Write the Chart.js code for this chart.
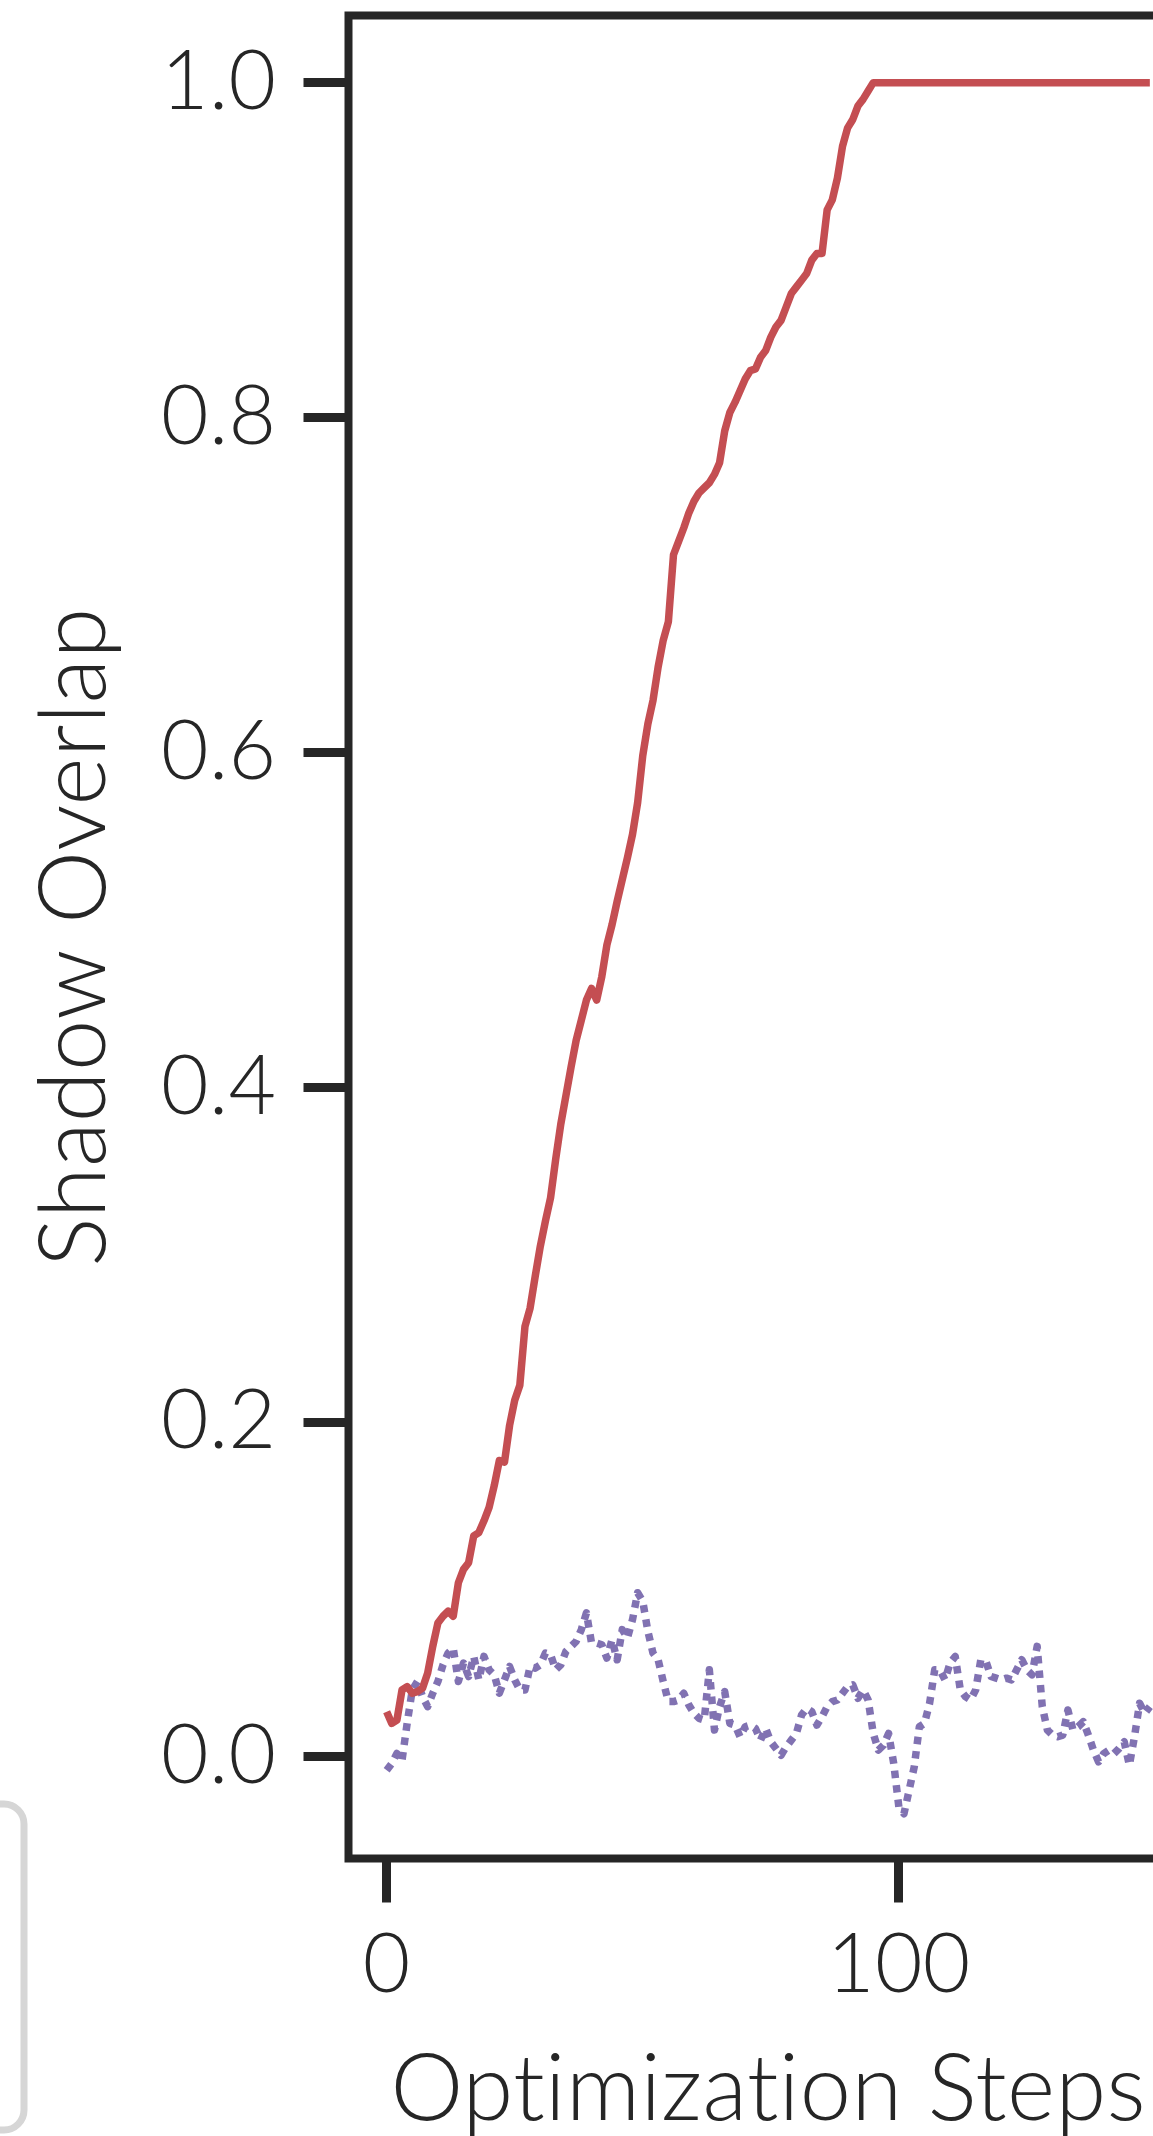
<!DOCTYPE html>
<html>
<head>
<meta charset="utf-8">
<title>Shadow Overlap</title>
<script src="https://cdn.jsdelivr.net/npm/chart.js@4.4.0/dist/chart.umd.min.js"></script>
<style>
    html, body { margin: 0; padding: 0; background: #fff; overflow: hidden; }
    body { width: 1153px; height: 2136px; position: relative; }
    #wrap { position: absolute; left: 0; top: 0; width: 1188px; height: 2136px; }
</style>
</head>
<body>
<div id="wrap"><canvas id="overlapChart"></canvas></div>
<script>
// values, one per optimization step (0..149)
const redOverlap = [
    0.027, 0.020, 0.022, 0.040, 0.042, 0.038, 0.039, 0.041, 0.050, 0.066,
    0.080, 0.084, 0.087, 0.084, 0.104, 0.112, 0.116, 0.132, 0.134, 0.141,
    0.149, 0.162, 0.177, 0.176, 0.198, 0.213, 0.222, 0.257, 0.268, 0.287,
    0.305, 0.320, 0.334, 0.357, 0.378, 0.395, 0.412, 0.428, 0.440, 0.452,
    0.459, 0.452, 0.466, 0.485, 0.497, 0.511, 0.524, 0.537, 0.551, 0.570,
    0.598, 0.617, 0.631, 0.651, 0.667, 0.678, 0.718, 0.726, 0.734, 0.743,
    0.750, 0.755, 0.758, 0.761, 0.766, 0.773, 0.792, 0.803, 0.809, 0.816,
    0.823, 0.828, 0.829, 0.836, 0.840, 0.848, 0.854, 0.858, 0.866, 0.874,
    0.878, 0.882, 0.886, 0.894, 0.898, 0.898, 0.924, 0.930, 0.943, 0.962,
    0.973, 0.978, 0.986, 0.990, 0.995, 1.000, 1.000, 1.000, 1.000, 1.000,
    1.000, 1.000, 1.000, 1.000, 1.000, 1.000, 1.000, 1.000, 1.000, 1.000,
    1.000, 1.000, 1.000, 1.000, 1.000, 1.000, 1.000, 1.000, 1.000, 1.000,
    1.000, 1.000, 1.000, 1.000, 1.000, 1.000, 1.000, 1.000, 1.000, 1.000,
    1.000, 1.000, 1.000, 1.000, 1.000, 1.000, 1.000, 1.000, 1.000, 1.000,
    1.000, 1.000, 1.000, 1.000, 1.000, 1.000, 1.000, 1.000, 1.000, 1.000
];
const purpleOverlap = [
    -0.008, -0.004, 0.002, -0.002, 0.020, 0.040, 0.045, 0.036, 0.030, 0.038,
    0.045, 0.055, 0.062, 0.065, 0.045, 0.056, 0.048, 0.060, 0.046, 0.060,
    0.052, 0.049, 0.038, 0.046, 0.054, 0.046, 0.040, 0.040, 0.054, 0.053,
    0.055, 0.062, 0.061, 0.052, 0.055, 0.063, 0.066, 0.069, 0.076, 0.086,
    0.068, 0.068, 0.067, 0.059, 0.070, 0.058, 0.076, 0.071, 0.082, 0.098,
    0.093, 0.075, 0.062, 0.058, 0.045, 0.033, 0.033, 0.034, 0.038, 0.031,
    0.026, 0.023, 0.022, 0.052, 0.016, 0.030, 0.039, 0.020, 0.019, 0.012,
    0.018, 0.019, 0.017, 0.010, 0.017, 0.009, 0.005, 0.001, 0.006, 0.010,
    0.014, 0.025, 0.029, 0.027, 0.019, 0.024, 0.030, 0.033, 0.034, 0.038,
    0.042, 0.043, 0.035, 0.040, 0.034, 0.014, 0.004, 0.007, 0.014, -0.004,
    -0.030, -0.034, -0.020, -0.006, 0.018, 0.020, 0.032, 0.052, 0.052, 0.046,
    0.056, 0.060, 0.040, 0.036, 0.034, 0.040, 0.058, 0.057, 0.048, 0.047,
    0.046, 0.047, 0.046, 0.052, 0.058, 0.052, 0.049, 0.066, 0.030, 0.016,
    0.013, 0.012, 0.013, 0.028, 0.016, 0.018, 0.021, 0.013, 0.004, -0.003,
    0.002, 0.004, 0.002, 0.005, 0.009, -0.005, 0.012, 0.032, 0.026, 0.030
];
const steps = redOverlap.map((_, i) => i);
const xTicks = [0, 100];
const yTicks = [0.0, 0.2, 0.4, 0.6, 0.8, 1.0];

const INK = '#262626';
const FONT = 'Lato, "Open Sans", sans-serif';

// keep "ti" etc. as separate glyphs, like the original typeface
const textPlugin = {
    id: 'plainText',
    beforeDraw(chart) {
        chart.ctx.textRendering = 'optimizeSpeed';
        chart.ctx.letterSpacing = '0.4px';
    }
};

// axes frame (all four spines)
const framePlugin = {
    id: 'frame',
    afterDatasetsDraw(chart) {
        const a = chart.chartArea;
        const ctx = chart.ctx;
        ctx.save();
        ctx.strokeStyle = INK;
        ctx.lineWidth = 8;
        ctx.strokeRect(a.left, a.top, a.right - a.left, a.bottom - a.top);
        ctx.restore();
    }
};

// edge of the legend box that sits mostly outside the crop
const legendEdgePlugin = {
    id: 'legendEdge',
    afterDraw(chart) {
        const ctx = chart.ctx;
        ctx.save();
        ctx.strokeStyle = '#d6d6d6';
        ctx.lineWidth = 7;
        ctx.beginPath();
        ctx.roundRect(-300, 1804, 324, 326, 20);
        ctx.stroke();
        ctx.restore();
    }
};

// label overflow must not push the plot area around
function noLabelPadding(s) {
    s.paddingTop = 0;
    s.paddingBottom = 0;
    s.paddingLeft = 0;
    s.paddingRight = 0;
}

new Chart(document.getElementById('overlapChart'), {
    type: 'line',
    data: {
        datasets: [
            {
                label: 'red',
                data: steps.map(i => ({ x: i, y: redOverlap[i] })),
                borderColor: '#c44e52',
                borderWidth: 7.5,
                borderCapStyle: 'butt',
                borderJoinStyle: 'round',
                pointRadius: 0,
                tension: 0,
                order: 0
            },
            {
                label: 'purple',
                data: steps.map(i => ({ x: i, y: purpleOverlap[i] })),
                borderColor: '#8172b2',
                borderWidth: 7.5,
                borderDash: [7.5, 7],
                borderCapStyle: 'butt',
                borderJoinStyle: 'round',
                pointRadius: 0,
                tension: 0,
                order: 1
            }
        ]
    },
    options: {
        responsive: true,
        maintainAspectRatio: false,
        animation: false,
        layout: { autoPadding: false, padding: { top: 15.5, right: 0, left: 0, bottom: 0 } },
        plugins: { legend: { display: false }, tooltip: { enabled: false } },
        scales: {
            x: {
                type: 'linear',
                min: -7.45,
                max: 156.45,
                afterBuildTicks: s => { s.ticks = xTicks.map(v => ({ value: v })); },
                afterFit: s => { s.height = 277.5; noLabelPadding(s); },
                grid: { drawOnChartArea: false, drawTicks: true, tickLength: 44, tickWidth: 9, tickColor: INK },
                border: { display: false },
                ticks: { font: { family: FONT, size: 82, weight: 300 }, color: INK, padding: 14, maxRotation: 0 },
                title: { display: true, text: 'Optimization Steps', color: INK, padding: 0,
                         font: { family: FONT, size: 92, weight: 300, lineHeight: 1 } }
            },
            y: {
                type: 'linear',
                min: -0.0607,
                max: 1.0401,
                afterBuildTicks: s => { s.ticks = yTicks.map(v => ({ value: v })); },
                afterFit: s => { s.width = 348.5; noLabelPadding(s); },
                grid: { drawOnChartArea: false, drawTicks: true, tickLength: 45, tickWidth: 9, tickColor: INK },
                border: { display: false },
                ticks: { font: { family: FONT, size: 82, weight: 300 }, color: INK, padding: 27,
                         callback: v => Number(v).toFixed(1) },
                title: { display: true, text: 'Shadow Overlap', color: INK, padding: 29,
                         font: { family: FONT, size: 92, weight: 300, lineHeight: 1 } }
            }
        }
    },
    plugins: [textPlugin, framePlugin, legendEdgePlugin]
});
</script>
</body>
</html>
